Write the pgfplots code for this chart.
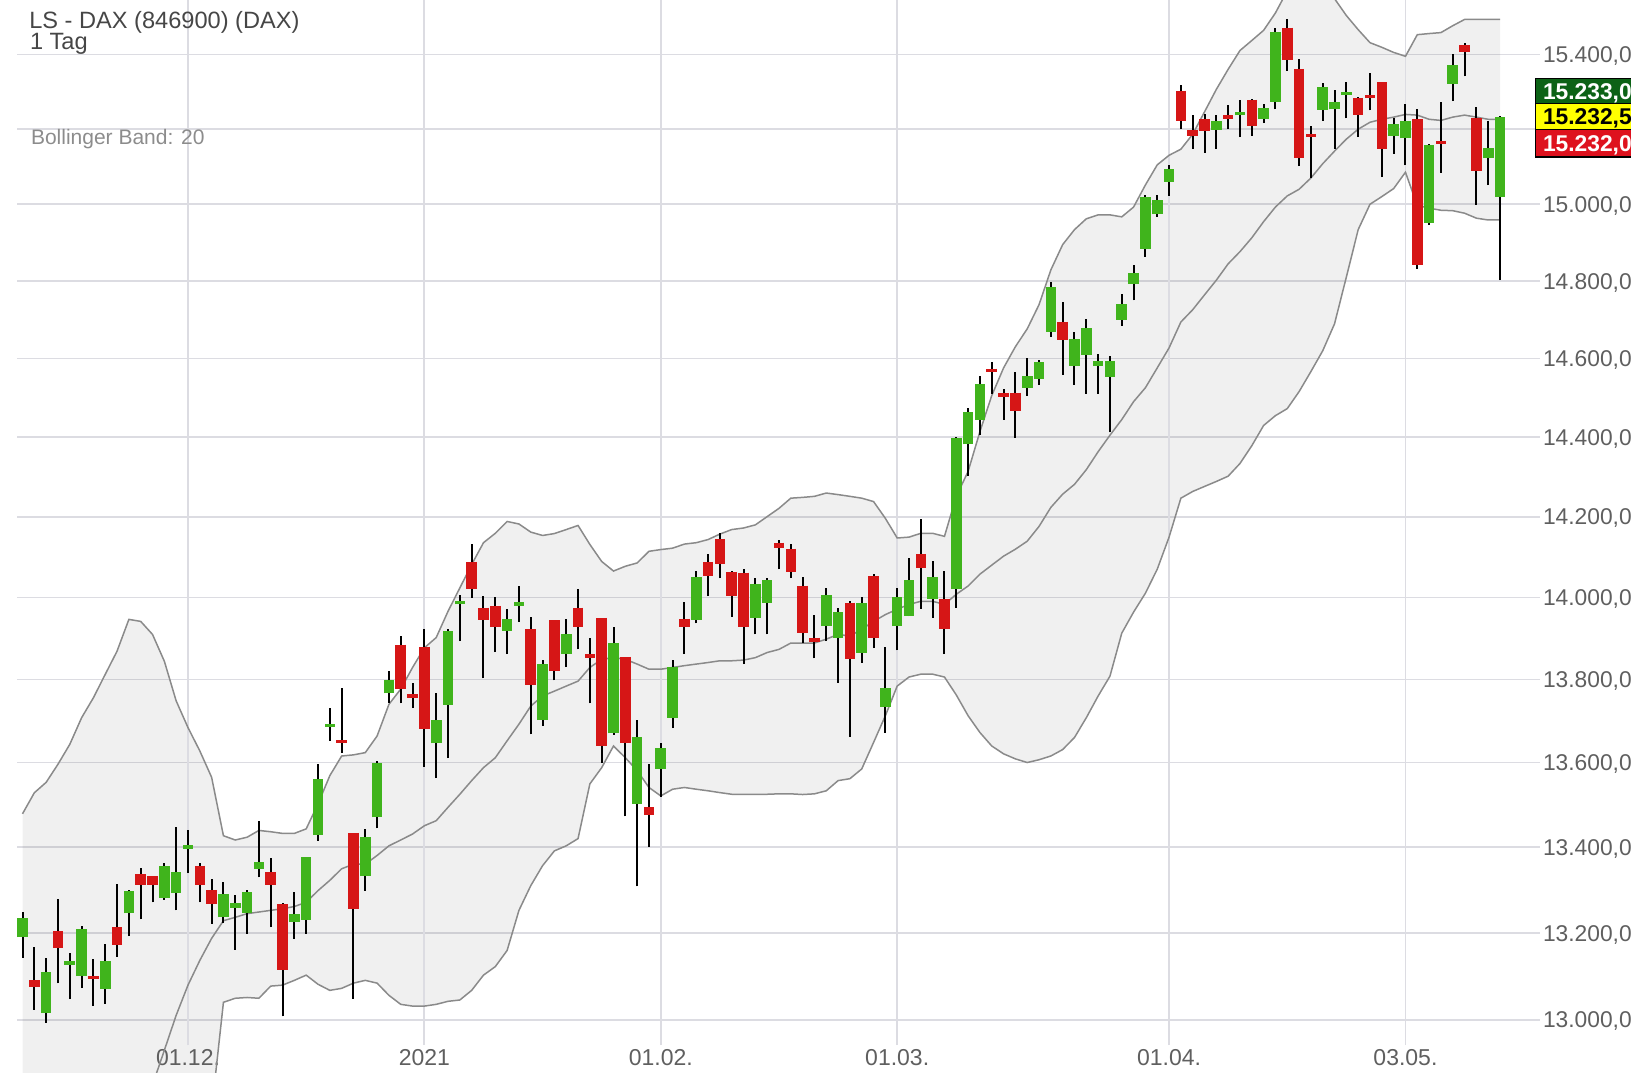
\documentclass[border=0pt]{standalone}
\usepackage{fontspec}
\setmainfont{Liberation Sans}
\usepackage{pgfplots}
\usepackage{pgfplotstable}
\pgfplotsset{compat=1.18}
\usepgfplotslibrary{fillbetween}

\definecolor{cgreen}{RGB}{64,180,28}
\definecolor{cred}{RGB}{214,22,22}
\definecolor{gridc}{RGB}{220,220,226}
\definecolor{bandc}{RGB}{138,138,138}
\definecolor{tickc}{RGB}{95,95,95}
\definecolor{titlec}{RGB}{70,70,70}
\definecolor{bbc}{RGB}{140,140,140}
\definecolor{boxgreen}{RGB}{12,98,22}
\definecolor{boxyellow}{RGB}{255,255,0}
\definecolor{boxred}{RGB}{222,18,30}

\pgfplotstableread{
i o h l c
0 13190 13248 13142 13234
1 13090 13167 13023 13075
2 13015 13142 12993 13109
3 13204 13279 13083 13165
4 13126 13153 13047 13134
5 13100 13215 13073 13209
6 13100 13139 13032 13092
7 13070 13173 13037 13135
8 13213 13314 13145 13171
9 13245 13300 13192 13296
10 13336 13350 13231 13312
11 13331 13333 13271 13312
12 13281 13364 13277 13355
13 13292 13446 13252 13341
14 13396 13440 13339 13404
15 13356 13364 13271 13312
16 13300 13326 13221 13266
17 13236 13319 13223 13291
18 13258 13288 13161 13269
19 13245 13300 13198 13294
20 13348 13462 13329 13366
21 13341 13374 13213 13312
22 13266 13269 13008 13115
23 13225 13294 13186 13244
24 13230 13376 13198 13376
25 13428 13596 13415 13561
26 13686 13732 13652 13694
27 13654 13779 13624 13646
28 13433 13433 13048 13256
29 13332 13443 13297 13423
30 13470 13603 13444 13598
31 13766 13820 13744 13799
32 13885 13906 13742 13776
33 13764 13792 13731 13756
34 13880 13922 13590 13682
35 13646 13768 13563 13702
36 13739 13922 13611 13918
37 13983 14007 13893 13991
38 14088 14131 13999 14020
39 13975 14005 13803 13945
40 13980 14001 13867 13928
41 13918 13973 13861 13949
42 13980 14028 13940 13988
43 13922 13952 13668 13787
44 13702 13847 13688 13837
45 13944 13944 13798 13819
46 13861 13949 13830 13911
47 13975 14022 13873 13928
48 13861 13900 13742 13853
49 13950 13950 13600 13640
50 13670 13928 13667 13889
51 13855 13855 13472 13646
52 13502 13702 13308 13660
53 13494 13596 13401 13476
54 13585 13648 13519 13634
55 13708 13847 13683 13830
56 13949 13989 13861 13928
57 13945 14066 13936 14050
58 14088 14107 14003 14052
59 14145 14159 14047 14084
60 14063 14065 13952 14003
61 14061 14069 13837 13928
62 13950 14048 13910 14033
63 13987 14048 13910 14044
64 14135 14143 14069 14122
65 14120 14131 14048 14063
66 14029 14050 13889 13914
67 13902 13958 13851 13892
68 13930 14024 13893 14007
69 13902 13975 13792 13965
70 13987 13991 13662 13849
71 13865 14001 13841 13987
72 14052 14057 13876 13902
73 13734 13879 13672 13780
74 13930 14024 13871 14001
75 13954 14098 13954 14044
76 14108 14195 13973 14073
77 13997 14091 13950 14050
78 13996 14065 13861 13922
79 14020 14401 13975 14397
80 14382 14473 14301 14463
81 14443 14556 14405 14534
82 14574 14591 14509 14566
83 14511 14522 14443 14503
84 14513 14566 14397 14465
85 14525 14600 14505 14556
86 14547 14596 14532 14590
87 14669 14797 14656 14784
88 14694 14746 14559 14647
89 14581 14667 14532 14651
90 14609 14701 14510 14679
91 14580 14610 14510 14594
92 14553 14607 14412 14594
93 14699 14767 14684 14740
94 14793 14841 14750 14819
95 14884 15025 14862 15019
96 14974 15025 14967 15013
97 15059 15103 15022 15094
98 15303 15316 15200 15222
99 15196 15236 15147 15180
100 15225 15240 15137 15193
101 15198 15237 15147 15220
102 15236 15263 15200 15227
103 15236 15276 15178 15245
104 15278 15280 15182 15209
105 15227 15267 15216 15255
106 15273 15473 15252 15461
107 15473 15495 15356 15385
108 15361 15387 15101 15123
109 15187 15209 15070 15179
110 15251 15323 15222 15312
111 15252 15305 15146 15273
112 15291 15325 15228 15299
113 15283 15287 15178 15238
114 15290 15349 15249 15282
115 15325 15325 15072 15147
116 15182 15228 15134 15213
117 15175 15267 15103 15220
118 15225 15253 14832 14842
119 14951 15160 14947 15158
120 15169 15271 15084 15161
121 15320 15401 15274 15371
122 15425 15431 15341 15407
123 15229 15258 14999 15088
124 15123 15220 15050 15150
125 15021 15235 14802 15232
}\candles

\pgfplotstableread{
i up mid lo
0 13478 nan 12500
1 13528 nan 12500
2 13553 nan 12500
3 13596 nan 12500
4 13644 nan 12500
5 13708 nan 12500
6 13756 nan 12500
7 13812 nan 12500
8 13869 nan 12500
9 13946 nan 12500
10 13942 12775 12500
11 13910 12852 12500
12 13844 12931 12500
13 13748 13010 12500
14 13684 13079 12550
15 13628 13136 12650
16 13565 13187 12795
17 13427 13228 13040
18 13417 13236 13049
19 13423 13244 13051
20 13439 13248 13049
21 13436 13252 13077
22 13432 13256 13079
23 13432 13261 13090
24 13443 13271 13102
25 13502 13298 13081
26 13569 13322 13067
27 13616 13349 13072
28 13619 13360 13084
29 13624 13360 13090
30 13664 13380 13084
31 13740 13403 13056
32 13777 13417 13035
33 13829 13431 13031
34 13877 13450 13031
35 13902 13462 13035
36 13966 13494 13042
37 14024 13525 13045
38 14081 13557 13067
39 14135 13588 13102
40 14159 13612 13122
41 14188 13652 13159
42 14182 13692 13252
43 14162 13736 13310
44 14153 13760 13357
45 14158 13772 13391
46 14168 13784 13403
47 14178 13796 13420
48 14131 13829 13549
49 14089 13849 13588
50 14065 13853 13640
51 14077 13849 13612
52 14085 13837 13581
53 14114 13825 13541
54 14118 13825 13521
55 14122 13829 13537
56 14132 13833 13541
57 14135 13837 13537
58 14143 13841 13533
59 14157 13845 13529
60 14168 13845 13525
61 14172 13847 13525
62 14180 13853 13525
63 14200 13865 13525
64 14221 13873 13526
65 14246 13889 13526
66 14248 13889 13524
67 14251 13889 13526
68 14259 13898 13533
69 14255 13910 13557
70 14251 13906 13562
71 14246 13922 13585
72 14238 13942 13648
73 14196 13958 13712
74 14147 13971 13784
75 14149 13983 13806
76 14159 13991 13813
77 14159 13991 13813
78 14151 13983 13806
79 14251 14008 13763
80 14313 14028 13712
81 14414 14057 13672
82 14505 14080 13640
83 14576 14102 13621
84 14630 14119 13609
85 14676 14139 13600
86 14738 14176 13607
87 14829 14223 13616
88 14894 14256 13631
89 14933 14281 13660
90 14962 14318 13708
91 14972 14363 13760
92 14972 14404 13808
93 14967 14444 13913
94 14993 14490 13964
95 15051 14525 14010
96 15104 14576 14070
97 15130 14627 14149
98 15146 14694 14246
99 15186 14725 14263
100 15245 14764 14276
101 15306 14802 14288
102 15360 14844 14301
103 15411 14876 14333
104 15438 14912 14378
105 15465 14954 14429
106 15513 14993 14454
107 15573 15022 14472
108 15594 15040 14515
109 15600 15070 14566
110 15584 15107 14620
111 15551 15141 14689
112 15505 15173 14810
113 15468 15199 14933
114 15432 15218 15000
115 15419 15226 15021
116 15405 15231 15042
117 15395 15239 15085
118 15454 15237 14998
119 15457 15226 14990
120 15459 15223 14985
121 15478 15231 14983
122 15495 15237 14977
123 15495 15231 14964
124 15495 15226 14959
125 15495 15226 14959
}\bands

\begin{document}
\begin{tikzpicture}
\begin{axis}[
  at={(3.4pt,0pt)}, anchor=south west,
  scale only axis, width=304.6pt, height=214.4pt,
  xmin=-0.4653, xmax=128.384,
  ymode=log, ymin=12881.3, ymax=15548.2,
  axis line style={draw=none},
  major tick length=0pt,
  xtick={14,34,54,74,97,117},
  xticklabels={01.12.,2021,01.02.,01.03.,01.04.,03.05.},
  xticklabel style={anchor=base, yshift=1.4pt, inner sep=0pt, font=\fontsize{4.6}{5.5}\selectfont, text=tickc},
  ytick={13000,13200,13400,13600,13800,14000,14200,14400,14600,14800,15000,15200,15400},
  yticklabels={{13.000,0},{13.200,0},{13.400,0},{13.600,0},{13.800,0},{14.000,0},{14.200,0},{14.400,0},{14.600,0},{14.800,0},{15.000,0},{},{15.400,0}},
  yticklabel pos=right,
  yticklabel style={anchor=base west, inner sep=0pt, xshift=0.4pt, yshift=-1.64pt, font=\fontsize{4.56}{5.5}\selectfont, text=tickc},
  ymajorgrids, grid style={gridc, line width=0.36pt},
  unbounded coords=jump,
]
\pgfplotsinvokeforeach{14,34,54,74,97,117}{
  \draw[gridc, line width=0.36pt] (axis cs:#1,12942) -- (axis cs:#1,15600);
}
\addplot[draw=none, name path=up, forget plot] table[x=i, y=up] {\bands};
\addplot[draw=none, name path=lo, forget plot] table[x=i, y=lo] {\bands};
\addplot[fill=black, fill opacity=0.06, draw=none, forget plot] fill between[of=up and lo];
\addplot[bandc, line width=0.3pt, forget plot] table[x=i, y=up] {\bands};
\addplot[bandc, line width=0.3pt, forget plot] table[x=i, y=mid] {\bands};
\addplot[bandc, line width=0.3pt, forget plot] table[x=i, y=lo] {\bands};
\pgfplotsinvokeforeach{0,...,125}{%
  \pgfplotstablegetelem{#1}{o}\of\candles \let\candO\pgfplotsretval
  \pgfplotstablegetelem{#1}{h}\of\candles \let\candH\pgfplotsretval
  \pgfplotstablegetelem{#1}{l}\of\candles \let\candL\pgfplotsretval
  \pgfplotstablegetelem{#1}{c}\of\candles \let\candC\pgfplotsretval
  \ifdim\candC pt<\candO pt \def\candcol{cred}\else\def\candcol{cgreen}\fi
  \edef\doit{%
    \noexpand\addplot[black, line width=0.4pt, forget plot] coordinates {(#1,\candL) (#1,\candH)};
    \noexpand\addplot[\candcol, line width=2.12pt, line cap=butt, forget plot] coordinates {(#1,\candO) (#1,\candC)};
  }\doit
}
\end{axis}
\node[anchor=base west, inner sep=0pt, text=titlec, font=\fontsize{4.72}{5.6}\selectfont] at (5.66pt,208.74pt) {LS - DAX (846900) (DAX)};
\node[anchor=base west, inner sep=0pt, text=titlec, font=\fontsize{4.72}{5.6}\selectfont] at (5.8pt,204.54pt) {1 Tag};
\node[anchor=base west, inner sep=0pt, text=bbc, font=\fontsize{4.2}{5}\selectfont] at (6pt,185.4pt) {Bollinger Band: 20};
\fill[boxgreen] (307.1pt,193.6pt) rectangle (332pt,198.7pt);
\fill[boxyellow] (307.1pt,188.5pt) rectangle (332pt,193.6pt);
\fill[boxred] (307.1pt,183pt) rectangle (332pt,188.5pt);
\draw[black, line width=0.24pt] (332pt,198.7pt) -- (307.1pt,198.7pt) -- (307.1pt,183pt) -- (332pt,183pt);
\draw[black, line width=0.2pt] (307.1pt,193.6pt) -- (332pt,193.6pt) (307.1pt,188.5pt) -- (332pt,188.5pt);
\node[anchor=base west, inner sep=0pt, text=white, font=\bfseries\fontsize{4.56}{5.5}\selectfont] at (308.4pt,194.52pt) {15.233,0};
\node[anchor=base west, inner sep=0pt, text=black, font=\bfseries\fontsize{4.56}{5.5}\selectfont] at (308.4pt,189.4pt) {15.232,5};
\node[anchor=base west, inner sep=0pt, text=white, font=\bfseries\fontsize{4.56}{5.5}\selectfont] at (308.4pt,184.12pt) {15.232,0};
\pgfresetboundingbox
\useasboundingbox (0,0) rectangle (326.2pt,214.4pt);
\end{tikzpicture}
\end{document}
